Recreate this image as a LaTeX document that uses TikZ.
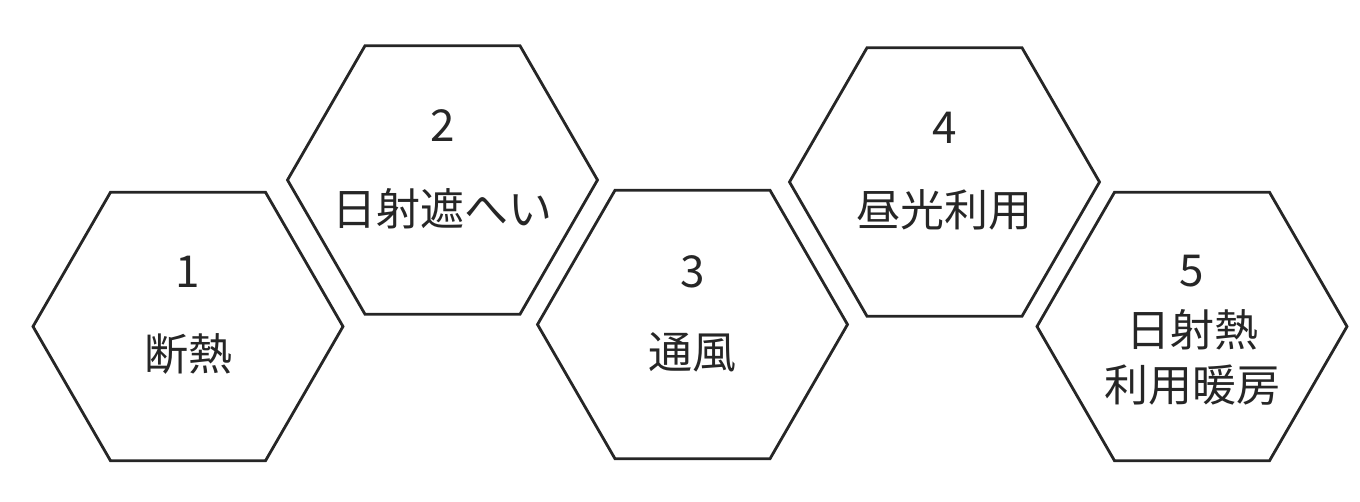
\documentclass[tikz,border=0pt]{standalone}
\usepackage{fontspec}
\setmainfont{Noto Sans CJK JP}
\usetikzlibrary{shapes.geometric}
\begin{document}
\begin{tikzpicture}[x=1pt,y=-1pt,
  hexa/.style={regular polygon, regular polygon sides=6, draw=black!85, line width=2.8pt,
    minimum size=310pt, inner sep=0pt, outer sep=0pt},
  numtxt/.style={font=\fontsize{44}{44}\selectfont, text=black!85, inner sep=0pt},
  lbltxt/.style={font=\fontsize{44}{55}\selectfont, text=black!85, inner sep=0pt, align=center}]
\useasboundingbox (0,0) rectangle (1360,502);
\node[hexa] (h1) at (188,326.5) {};
\node[hexa] (h2) at (442.5,180) {};
\node[hexa] (h3) at (692.5,324.5) {};
\node[hexa] (h4) at (944.5,182) {};
\node[hexa] (h5) at (1192,326.5) {};
\node[numtxt] (n1) at ([yshift=55pt]h1.center) {1};
\node[lbltxt] (t1) at ([yshift=-27pt]h1.center) {断熱};
\node[numtxt] (n2) at ([yshift=54pt]h2.center) {2};
\node[lbltxt] (t2) at ([yshift=-29pt]h2.center) {日射遮へい};
\node[numtxt] (n3) at ([yshift=53pt]h3.center) {3};
\node[lbltxt] (t3) at ([yshift=-28pt]h3.center) {通風};
\node[numtxt] (n4) at ([yshift=54pt]h4.center) {4};
\node[lbltxt] (t4) at ([yshift=-28pt]h4.center) {昼光利用};
\node[numtxt] (n5) at ([yshift=55pt]h5.center) {5};
\node[lbltxt] (t5) at ([yshift=-31pt]h5.center) {日射熱\\利用暖房};
\end{tikzpicture}
\end{document}
